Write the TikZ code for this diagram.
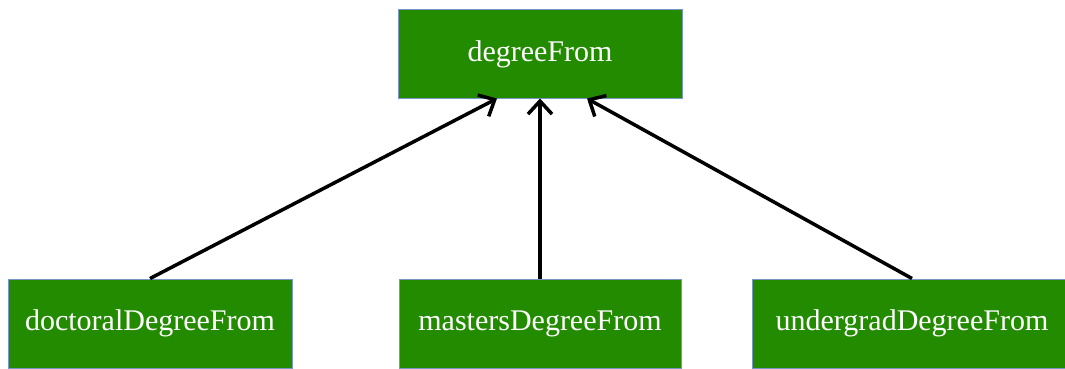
\documentclass[tikz,border=0pt]{standalone}
\usepackage{fontspec}
\setmainfont{Liberation Serif}
\usetikzlibrary{arrows.meta}
\definecolor{boxgreen}{RGB}{34,139,0}
\definecolor{boxedge}{RGB}{120,150,200}
\begin{document}
\begin{tikzpicture}[x=1pt,y=1pt,
  prop/.style={draw=boxedge, line width=1pt, fill=boxgreen, text=white,
    minimum height=88pt, inner sep=0pt,
    font=\fontsize{30}{34}\selectfont},
  sub/.style={-{Straight Barb[length=13pt,width=24pt,line width=3.5pt]}, line width=3.5pt, black}]
  \useasboundingbox (0,0) rectangle (1065,-369);
  \node[prop, minimum width=284pt] (t) at (540,-54) {degreeFrom};
  \node[prop, minimum width=284pt, minimum height=89pt] (l) at (150,-323.5) {doctoralDegreeFrom};
  \node[prop, minimum width=282pt, minimum height=89pt] (m) at (540,-323.5) {mastersDegreeFrom};
  \node[prop, minimum width=320pt, minimum height=89pt] (r) at (912,-323.5) {undergradDegreeFrom};
  \draw[sub] (l.north) -- ([xshift=-43pt]t.south);
  \draw[sub] (m.north) -- (t.south);
  \draw[sub] (r.north) -- ([xshift=47pt]t.south);
\end{tikzpicture}
\end{document}
